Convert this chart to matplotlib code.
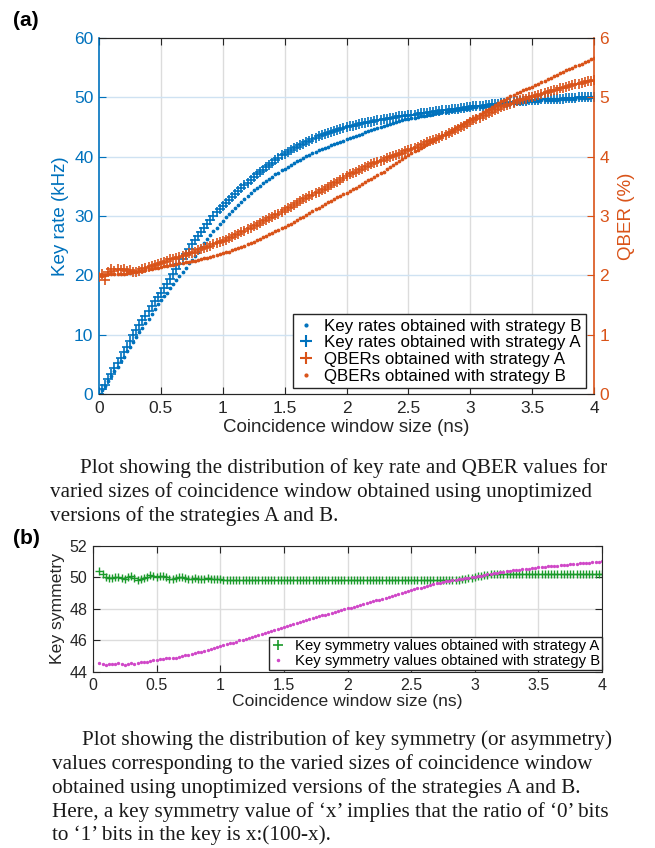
import numpy as np
import matplotlib
matplotlib.use("Agg")
import matplotlib.pyplot as plt
from matplotlib.lines import Line2D

plt.rcParams['font.family'] = ['Liberation Sans', 'DejaVu Sans']

# ---------------- data (panel a): x = 0 .. 4 ns, step 0.025 ----------------
key_rate_A = [
    0.0, 0.8, 1.6, 2.5, 3.4, 4.3, 5.2, 6.1, 7.1, 8.0,
    9.0, 9.9, 10.8, 11.6, 12.4, 13.2, 14.0, 14.8, 15.6, 16.3,
    17.1, 17.8, 18.6, 19.4, 20.2, 21.0, 21.9, 22.7, 23.6, 24.4,
    25.2, 25.9, 26.6, 27.3, 28.0, 28.7, 29.4, 30.0, 30.6, 31.2,
    31.7, 32.2, 32.7, 33.2, 33.7, 34.2, 34.7, 35.2, 35.6, 36.1,
    36.5, 37.0, 37.4, 37.8, 38.2, 38.6, 39.0, 39.4, 39.8, 40.2,
    40.5, 40.8, 41.1, 41.4, 41.7, 42.0, 42.2, 42.5, 42.7, 43.0,
    43.2, 43.4, 43.6, 43.8, 44.0, 44.2, 44.3, 44.5, 44.7, 44.9,
    45.0, 45.1, 45.2, 45.4, 45.5, 45.6, 45.7, 45.8, 45.9, 46.0,
    46.1, 46.2, 46.3, 46.4, 46.5, 46.6, 46.7, 46.8, 46.8, 46.9,
    47.0, 47.1, 47.1, 47.2, 47.3, 47.4, 47.4, 47.5, 47.6, 47.7,
    47.7, 47.8, 47.8, 47.9, 48.0, 48.1, 48.1, 48.2, 48.2, 48.3,
    48.4, 48.5, 48.5, 48.6, 48.6, 48.7, 48.7, 48.8, 48.8, 48.9,
    49.0, 49.1, 49.1, 49.2, 49.2, 49.3, 49.3, 49.4, 49.4, 49.5,
    49.5, 49.6, 49.6, 49.7, 49.7, 49.7, 49.7, 49.8, 49.8, 49.8,
    49.8, 49.9, 49.9, 49.9, 49.9, 50.0, 50.0, 50.0, 50.0, 50.1,
    50.1]
key_rate_B = [
    0.0, 0.7, 1.4, 2.2, 3.0, 3.8, 4.6, 5.5, 6.3, 7.2,
    8.0, 8.8, 9.6, 10.4, 11.2, 12.0, 12.7, 13.5, 14.3, 15.1,
    15.8, 16.5, 17.1, 17.8, 18.5, 19.2, 19.9, 20.6, 21.3, 22.0,
    22.6, 23.3, 24.0, 24.7, 25.4, 26.1, 26.8, 27.4, 28.0, 28.6,
    29.2, 29.8, 30.3, 30.9, 31.4, 31.9, 32.4, 32.9, 33.4, 33.9,
    34.3, 34.7, 35.1, 35.5, 35.9, 36.3, 36.6, 37.0, 37.3, 37.7,
    38.0, 38.3, 38.6, 38.9, 39.2, 39.5, 39.8, 40.1, 40.3, 40.6,
    40.8, 41.1, 41.3, 41.5, 41.7, 41.9, 42.1, 42.3, 42.5, 42.7,
    42.9, 43.1, 43.3, 43.5, 43.7, 43.9, 44.1, 44.3, 44.5, 44.7,
    44.8, 45.0, 45.2, 45.4, 45.5, 45.7, 45.8, 46.0, 46.1, 46.3,
    46.4, 46.5, 46.6, 46.7, 46.8, 46.9, 47.0, 47.1, 47.2, 47.3,
    47.4, 47.5, 47.6, 47.7, 47.7, 47.8, 47.9, 48.0, 48.0, 48.1,
    48.2, 48.3, 48.3, 48.4, 48.4, 48.5, 48.6, 48.7, 48.7, 48.8,
    48.8, 48.9, 48.9, 49.0, 49.0, 49.1, 49.1, 49.2, 49.2, 49.3,
    49.3, 49.4, 49.4, 49.5, 49.5, 49.6, 49.6, 49.6, 49.6, 49.7,
    49.7, 49.8, 49.8, 49.8, 49.8, 49.9, 49.9, 49.9, 49.9, 50.0,
    50.0]
qber_A = [
    1.98, 2.02, 1.92, 2.05, 2.10, 2.08, 2.11, 2.09, 2.10, 2.07,
    2.09, 2.06, 2.05, 2.08, 2.10, 2.12, 2.14, 2.15, 2.17, 2.19,
    2.21, 2.23, 2.25, 2.27, 2.28, 2.30, 2.31, 2.33, 2.35, 2.37,
    2.38, 2.40, 2.42, 2.44, 2.46, 2.48, 2.50, 2.52, 2.54, 2.56,
    2.58, 2.60, 2.63, 2.65, 2.68, 2.70, 2.73, 2.75, 2.78, 2.80,
    2.83, 2.85, 2.88, 2.91, 2.94, 2.96, 2.99, 3.01, 3.04, 3.07,
    3.10, 3.13, 3.16, 3.19, 3.22, 3.25, 3.28, 3.30, 3.33, 3.35,
    3.38, 3.40, 3.43, 3.46, 3.49, 3.52, 3.55, 3.58, 3.61, 3.64,
    3.67, 3.70, 3.72, 3.75, 3.77, 3.80, 3.82, 3.85, 3.87, 3.89,
    3.91, 3.93, 3.95, 3.97, 3.99, 4.01, 4.03, 4.05, 4.07, 4.09,
    4.11, 4.13, 4.15, 4.17, 4.19, 4.22, 4.24, 4.26, 4.28, 4.30,
    4.32, 4.35, 4.37, 4.40, 4.42, 4.45, 4.47, 4.50, 4.52, 4.55,
    4.58, 4.61, 4.63, 4.66, 4.68, 4.71, 4.73, 4.76, 4.78, 4.81,
    4.83, 4.85, 4.87, 4.89, 4.91, 4.93, 4.95, 4.97, 4.98, 5.00,
    5.01, 5.03, 5.04, 5.06, 5.07, 5.09, 5.10, 5.12, 5.13, 5.15,
    5.16, 5.18, 5.19, 5.21, 5.22, 5.23, 5.24, 5.26, 5.27, 5.28,
    5.29]
qber_B = [
    2.00, 2.00, 2.01, 2.02, 2.02, 2.03, 2.03, 2.03, 2.03, 2.04,
    2.04, 2.05, 2.05, 2.07, 2.08, 2.09, 2.10, 2.11, 2.12, 2.13,
    2.14, 2.15, 2.16, 2.17, 2.18, 2.19, 2.20, 2.21, 2.22, 2.23,
    2.24, 2.25, 2.26, 2.28, 2.29, 2.30, 2.31, 2.33, 2.34, 2.36,
    2.37, 2.39, 2.40, 2.42, 2.44, 2.46, 2.48, 2.50, 2.52, 2.54,
    2.56, 2.59, 2.61, 2.64, 2.66, 2.69, 2.71, 2.74, 2.76, 2.79,
    2.81, 2.84, 2.87, 2.90, 2.93, 2.96, 2.99, 3.02, 3.05, 3.08,
    3.11, 3.14, 3.17, 3.20, 3.23, 3.26, 3.29, 3.32, 3.34, 3.37,
    3.39, 3.42, 3.45, 3.48, 3.51, 3.54, 3.57, 3.60, 3.63, 3.66,
    3.69, 3.72, 3.75, 3.79, 3.82, 3.86, 3.89, 3.93, 3.96, 4.00,
    4.03, 4.06, 4.09, 4.12, 4.15, 4.18, 4.21, 4.24, 4.27, 4.30,
    4.33, 4.36, 4.39, 4.42, 4.45, 4.48, 4.51, 4.54, 4.57, 4.60,
    4.63, 4.66, 4.69, 4.72, 4.75, 4.78, 4.81, 4.84, 4.87, 4.90,
    4.93, 4.96, 4.99, 5.02, 5.04, 5.07, 5.09, 5.12, 5.14, 5.16,
    5.18, 5.21, 5.23, 5.26, 5.28, 5.31, 5.33, 5.36, 5.38, 5.41,
    5.43, 5.46, 5.48, 5.50, 5.52, 5.55, 5.57, 5.60, 5.62, 5.64,
    5.66]

# ---------------- data (panel b): x = 0.05 .. 4 ns, step 0.025 ----------------
sym_A = [
    50.40, 50.20, 50.00, 49.95, 49.95, 50.05, 50.05, 49.95, 49.90, 50.00,
    50.12, 49.95, 49.82, 49.90, 49.95, 50.00, 50.15, 50.10, 50.05, 50.12,
    50.10, 50.00, 49.90, 49.92, 49.95, 50.00, 50.05, 49.95, 49.90, 49.88,
    49.95, 49.92, 49.90, 49.93, 49.95, 49.92, 49.90, 49.88, 49.90,
    49.87, 49.86, 49.85, 49.87, 49.85, 49.84, 49.86, 49.85, 49.83, 49.85,
    49.86, 49.85, 49.84, 49.86, 49.85, 49.85, 49.84, 49.86, 49.85, 49.85,
    49.84, 49.85, 49.86, 49.85, 49.84, 49.85, 49.85, 49.86, 49.85, 49.84,
    49.85, 49.86, 49.85, 49.85, 49.84, 49.85, 49.86, 49.85, 49.85, 49.84,
    49.85, 49.86, 49.85, 49.84, 49.85, 49.85, 49.86, 49.85, 49.85, 49.84,
    49.85, 49.86, 49.85, 49.85, 49.84, 49.85, 49.86, 49.85, 49.85, 49.84,
    49.85, 49.86, 49.85, 49.85, 49.84, 49.85, 49.86, 49.85, 49.85, 49.86,
    49.85, 49.85, 49.86, 49.85,
    49.87, 49.90, 49.93, 49.96, 49.99, 50.03, 50.07, 50.11, 50.15, 50.18,
    50.20, 50.21,
    50.20, 50.21, 50.20, 50.22, 50.20, 50.21, 50.20, 50.21, 50.22, 50.20,
    50.21, 50.20, 50.21, 50.20, 50.22, 50.21, 50.20, 50.21, 50.20, 50.21,
    50.22, 50.20, 50.21, 50.20, 50.21, 50.20, 50.21, 50.22, 50.20, 50.21,
    50.20, 50.21, 50.20, 50.21]
sym_B = [
    44.55, 44.50, 44.42, 44.48, 44.52, 44.50, 44.58, 44.48, 44.42, 44.50,
    44.56, 44.52, 44.58, 44.62, 44.64, 44.66, 44.70, 44.74, 44.77, 44.80,
    44.84, 44.87, 44.90, 44.90, 44.92, 44.95, 45.00, 45.05, 45.10, 45.15,
    45.20, 45.25, 45.30, 45.36, 45.42, 45.47, 45.52, 45.58, 45.63, 45.69,
    45.75, 45.81, 45.87, 45.93, 46.00, 46.06, 46.12, 46.18, 46.25, 46.31,
    46.38, 46.44, 46.50, 46.56, 46.63, 46.69, 46.76, 46.82, 46.88, 46.94,
    47.00, 47.06, 47.12, 47.18, 47.24, 47.30, 47.36, 47.42, 47.48, 47.54,
    47.60, 47.65, 47.71, 47.76, 47.82, 47.87, 47.93, 47.98, 48.04, 48.09,
    48.15, 48.20, 48.26, 48.31, 48.37, 48.42, 48.48, 48.54, 48.60, 48.66,
    48.72, 48.78, 48.84, 48.90, 48.96, 49.02, 49.08, 49.14, 49.20, 49.25,
    49.31, 49.36, 49.42, 49.47, 49.52, 49.57, 49.62, 49.67, 49.72, 49.76,
    49.80, 49.84, 49.87, 49.90, 49.93, 49.96, 49.99, 50.02, 50.05, 50.08,
    50.12, 50.16, 50.20, 50.23, 50.27, 50.30, 50.33, 50.36, 50.39, 50.42,
    50.45, 50.47, 50.50, 50.52, 50.55, 50.57, 50.60, 50.62, 50.64, 50.66,
    50.68, 50.70, 50.72, 50.74, 50.76, 50.78, 50.80, 50.82, 50.84, 50.86,
    50.88, 50.90, 50.92, 50.93, 50.95, 50.96, 50.98, 51.00, 51.02]

x_a = np.linspace(0.0, 4.0, len(key_rate_A))
x_b_A = np.linspace(0.05, 4.0, len(sym_A))
x_b_B = np.linspace(0.05, 4.0, len(sym_B))

x_ticks = [0, 0.5, 1, 1.5, 2, 2.5, 3, 3.5, 4]
x_tick_labels = ['0', '0.5', '1', '1.5', '2', '2.5', '3', '3.5', '4']

legend_a = ['Key rates obtained with strategy B',
            'Key rates obtained with strategy A',
            'QBERs obtained with strategy A',
            'QBERs obtained with strategy B']
legend_b = ['Key symmetry values obtained with strategy A',
            'Key symmetry values obtained with strategy B']

caption_a = ['Plot showing the distribution of key rate and QBER values for',
             'varied sizes of coincidence window obtained using unoptimized',
             'versions of the strategies A and B.']
caption_b = ['Plot showing the distribution of key symmetry (or asymmetry)',
             'values corresponding to the varied sizes of coincidence window',
             'obtained using unoptimized versions of the strategies A and B.',
             'Here, a key symmetry value of \u2018x\u2019 implies that the ratio of \u20180\u2019 bits',
             'to \u20181\u2019 bits in the key is x:(100-x).']

BLUE = '#0072BD'
ORANGE = '#D95319'
GREEN = '#1a9a2a'
MAGENTA = '#d048c8'
DARK = '#262626'

W, H = 655, 848
fig = plt.figure(figsize=(W / 100, H / 100), dpi=100)


def fx(px):
    return px / W


def fy(py):
    return 1 - py / H


# ---------------- panel (a) ----------------
l, r, t, b = 99, 594, 38, 394
ax1 = fig.add_axes([fx(l), fy(b), fx(r) - fx(l), fy(t) - fy(b)])
ax2 = ax1.twinx()

ax1.plot(x_a, key_rate_B, ls='none', marker='.', ms=3.4, color=BLUE)
ax1.plot(x_a, key_rate_A, ls='none', marker='+', ms=7.5, mew=1.2, color=BLUE)
ax2.plot(x_a, qber_A, ls='none', marker='+', ms=7.5, mew=1.2, color=ORANGE)
ax2.plot(x_a, qber_B, ls='none', marker='.', ms=3.4, color=ORANGE)

ax1.set_xlim(0, 4)
ax1.set_ylim(0, 60)
ax2.set_ylim(0, 6)
ax1.set_xticks(x_ticks)
ax1.set_xticklabels(x_tick_labels)
ax1.set_yticks(range(0, 61, 10))
ax2.set_yticks(range(0, 7, 1))

for v in x_ticks[1:-1]:
    ax1.axvline(v, color='#dcdcdc', lw=1.0, zorder=0)
for v in range(10, 60, 10):
    ax1.axhline(v, color='#cfe2f2', lw=1.0, zorder=0)

ax1.tick_params(axis='x', direction='in', top=True, length=5, colors=DARK,
                labelsize=12.5, pad=5)
ax1.tick_params(axis='y', direction='in', length=5, colors=BLUE, labelsize=12.5, pad=4)
ax2.tick_params(axis='y', direction='in', length=5, colors=ORANGE, labelsize=12.5, pad=4)
ax1.spines['left'].set_color(BLUE)
ax1.spines['left'].set_linewidth(1.2)
ax2.spines['left'].set_visible(False)
ax2.spines['right'].set_color(ORANGE)
ax2.spines['right'].set_linewidth(1.2)
ax1.spines['right'].set_visible(False)
for s in ['top', 'bottom']:
    ax1.spines[s].set_color(DARK)
    ax2.spines[s].set_color(DARK)

ax1.set_ylabel('Key rate (kHz)', color=BLUE, fontsize=13.5, labelpad=4)
ax2.set_ylabel('QBER (%)', color=ORANGE, fontsize=13.5, labelpad=6)
ax1.set_xlabel('Coincidence window size (ns)', color=DARK, fontsize=13.5, labelpad=2)

leg_h = [Line2D([], [], ls='none', marker='.', ms=4, color=BLUE),
         Line2D([], [], ls='none', marker='+', ms=9, mew=1.5, color=BLUE),
         Line2D([], [], ls='none', marker='+', ms=9, mew=1.5, color=ORANGE),
         Line2D([], [], ls='none', marker='.', ms=4, color=ORANGE)]
leg = ax2.legend(leg_h, legend_a, loc='lower right', bbox_to_anchor=(0.984, 0.017),
                 fontsize=12.2, frameon=True, fancybox=False, framealpha=1,
                 edgecolor=DARK, handlelength=1.0, handletextpad=0.6,
                 labelspacing=0.1, borderpad=0.25, borderaxespad=0)
leg.get_frame().set_linewidth(1.0)

fig.text(fx(13), fy(20), '(a)', fontsize=15, fontweight='bold', va='center', ha='left')

# ---------------- caption (a) ----------------
serif = ['Liberation Serif', 'DejaVu Serif']
cap_y_a = [468, 492, 516]
for i, line in enumerate(caption_a):
    fig.text(fx(80 if i == 0 else 50), fy(cap_y_a[i]), line, family=serif,
             fontsize=15.2, va='center', ha='left', color='#1a1a1a')

# ---------------- panel (b) ----------------
l, r, t, b = 93, 602, 546, 672
ax3 = fig.add_axes([fx(l), fy(b), fx(r) - fx(l), fy(t) - fy(b)])
ax3.plot(x_b_A, sym_A, ls='none', marker='+', ms=5.5, mew=1.0, color=GREEN)
ax3.plot(x_b_B, sym_B, ls='none', marker='.', ms=2.8, color=MAGENTA)
ax3.set_xlim(0, 4)
ax3.set_ylim(44, 52)
ax3.set_xticks(x_ticks)
ax3.set_xticklabels(x_tick_labels)
ax3.set_yticks(range(44, 53, 2))
ax3.grid(True, color='#dcdcdc', lw=1.0)
ax3.set_axisbelow(True)
ax3.tick_params(direction='in', top=True, right=True, length=5, colors=DARK,
                labelsize=11.5, pad=4)
for s in ax3.spines.values():
    s.set_color(DARK)
ax3.set_ylabel('Key symmetry', color=DARK, fontsize=12.6, labelpad=3)
ax3.set_xlabel('Coincidence window size (ns)', color=DARK, fontsize=12.6, labelpad=1)

leg_hb = [Line2D([], [], ls='none', marker='+', ms=7, mew=1.2, color=GREEN),
          Line2D([], [], ls='none', marker='.', ms=3, color=MAGENTA)]
legb = ax3.legend(leg_hb, legend_b, loc='lower right', bbox_to_anchor=(1.0, 0.016),
                  fontsize=10.7, frameon=True, fancybox=False, framealpha=1,
                  edgecolor=DARK, handlelength=1.0, handletextpad=0.6,
                  labelspacing=0.05, borderpad=0.15, borderaxespad=0)
legb.get_frame().set_linewidth(1.0)

fig.text(fx(13), fy(539), '(b)', fontsize=15, fontweight='bold', va='center', ha='left')

cap_y_b = [740, 764, 788, 812, 835]
for i, line in enumerate(caption_b):
    fig.text(fx(82 if i == 0 else 52), fy(cap_y_b[i]), line, family=serif,
             fontsize=15.2, va='center', ha='left', color='#1a1a1a')

fig.savefig('out.png', dpi=100)
